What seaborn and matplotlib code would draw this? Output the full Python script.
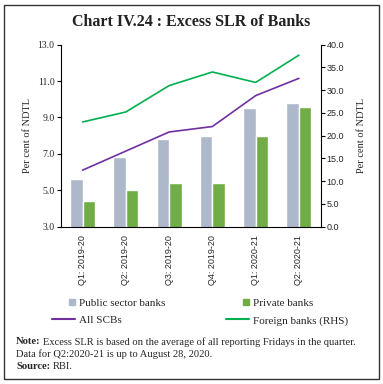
import matplotlib.pyplot as plt
import matplotlib.patches as mpatches
from matplotlib.lines import Line2D
from matplotlib.legend_handler import HandlerPatch
import numpy as np
import pandas as pd
import seaborn as sns

quarters = ['Q1: 2019-20', 'Q2: 2019-20', 'Q3: 2019-20', 'Q4: 2019-20',
            'Q1: 2020-21', 'Q2: 2020-21']
public_banks = [5.6, 6.8, 7.8, 8.0, 9.5, 9.8]
private_banks = [4.4, 5.0, 5.4, 5.4, 8.0, 9.6]
all_scbs = [6.1, 7.15, 8.2, 8.5, 10.2, 11.15]
foreign_banks = [23.0, 25.2, 31.0, 34.0, 31.7, 37.7]
left_ticks = [3.0, 5.0, 7.0, 9.0, 11.0, 13.0]
right_ticks = [0.0, 5.0, 10.0, 15.0, 20.0, 25.0, 30.0, 35.0, 40.0]

colors = {
    'public': '#adb9ca',
    'private': '#70ad47',
    'scb': '#7030a0',
    'foreign': '#00b050',
}

serif = 'Liberation Serif'
sans = 'Liberation Sans'

sns.set_style('white')
plt.rcParams.update({
    'font.family': serif,
    'axes.linewidth': 0.8,
    'xtick.major.width': 0.8,
    'ytick.major.width': 0.8,
    'xtick.minor.width': 0.8,
})

df = pd.DataFrame({
    'quarter': quarters * 2,
    'value': public_banks + private_banks,
    'group': ['Public sector banks'] * len(quarters) + ['Private banks'] * len(quarters),
})

fig = plt.figure(figsize=(3.83, 3.84), dpi=100)
ax = fig.add_axes([0.159, 0.410, 0.678, 0.4736])

sns.barplot(data=df, x='quarter', y='value', hue='group',
            palette=[colors['public'], colors['private']], saturation=1,
            width=0.58, ax=ax, legend=False)
sns.lineplot(x=np.arange(len(quarters)), y=all_scbs, color=colors['scb'],
             linewidth=1.2, ax=ax)

ax2 = ax.twinx()
sns.lineplot(x=np.arange(len(quarters)), y=foreign_banks, color=colors['foreign'],
             linewidth=1.2, ax=ax2)

ax.set_xlim(-0.5, len(quarters) - 0.5)
ax.set_ylim(3, 13)
ax.set_yticks(left_ticks)
ax.set_yticklabels([f'{v:.1f}' for v in left_ticks], fontsize=7, family=serif)
ax2.set_ylim(0, 40)
ax2.set_yticks(right_ticks)
ax2.set_yticklabels([f'{v:.1f}' for v in right_ticks], fontsize=6.5, family=sans)

ax.set_xticks(np.arange(len(quarters)))
ax.set_xticklabels(quarters, rotation=90, fontsize=6.5, family=sans)
ax.set_xticks(np.arange(len(quarters) + 1) - 0.5, minor=True)
ax.tick_params(axis='x', which='major', length=0, pad=6)
ax.tick_params(axis='x', which='minor', length=4, direction='out', color='black')
ax.tick_params(axis='y', length=3, direction='out', pad=1.5, color='black', left=True)
ax2.tick_params(axis='y', length=3, direction='out', pad=1.5, color='black', right=True)

ax.set_xlabel('')
ax.set_ylabel('Per cent of NDTL', fontsize=7.5, labelpad=4)
ax2.set_ylabel('Per cent of NDTL', fontsize=7.5, labelpad=9)

for a in (ax, ax2):
    a.spines['top'].set_visible(False)
    for s in ('left', 'right', 'bottom'):
        a.spines[s].set_color('black')
ax.spines['right'].set_visible(False)
ax2.spines['left'].set_visible(False)
ax2.spines['bottom'].set_visible(False)


def square_patch(legend, orig_handle, xdescent, ydescent, width, height, fontsize):
    s = 4.3
    return mpatches.Rectangle((-xdescent + width - s, -ydescent + (height - s) / 2), s, s)


handles = [
    mpatches.Patch(color=colors['public'], label='Public sector banks'),
    Line2D([0], [0], color=colors['scb'], lw=1.5, label='All SCBs'),
    mpatches.Patch(color=colors['private'], label='Private banks'),
    Line2D([0], [0], color=colors['foreign'], lw=1.5, label='Foreign banks (RHS)'),
]
fig.legend(handles=handles, ncol=2, loc='upper left',
           bbox_to_anchor=(52 / 383, 1 - 298 / 384), frameon=False,
           fontsize=8, handlelength=2.1, handletextpad=0.35, columnspacing=5.4,
           labelspacing=0.7, borderpad=0, borderaxespad=0,
           handler_map={mpatches.Patch: HandlerPatch(patch_func=square_patch)})

fig.text(0.5, 1 - 22 / 384, 'Chart IV.24 : Excess SLR of Banks', ha='center', va='center',
         fontsize=11.5, fontweight='bold', family=serif, color='#222222')

note_x = 16 / 383
lines_y = [1 - 341.7 / 384, 1 - 354.3 / 384, 1 - 366.7 / 384]
t1 = fig.text(note_x, lines_y[0], 'Note:', fontsize=7.6, fontweight='bold', va='center')
ax.annotate('Excess SLR is based on the average of all reporting Fridays in the quarter.',
            xy=(1, 0.5), xycoords=t1, xytext=(1.5, 0), textcoords='offset points',
            va='center', fontsize=7.6, annotation_clip=False)
fig.text(note_x, lines_y[1], 'Data for Q2:2020-21 is up to August 28, 2020.',
         fontsize=7.6, va='center')
t3 = fig.text(note_x, lines_y[2], 'Source:', fontsize=7.6, fontweight='bold', va='center')
ax.annotate('RBI.', xy=(1, 0.5), xycoords=t3, xytext=(1.5, 0), textcoords='offset points',
            va='center', fontsize=7.6, annotation_clip=False)

fig.patches.append(mpatches.Rectangle((4 / 383, 1 - 379 / 384), 375 / 383, 374 / 384,
                                      transform=fig.transFigure, fill=False,
                                      edgecolor='#333333', linewidth=1.0))

fig.savefig('out.png', dpi=100)
